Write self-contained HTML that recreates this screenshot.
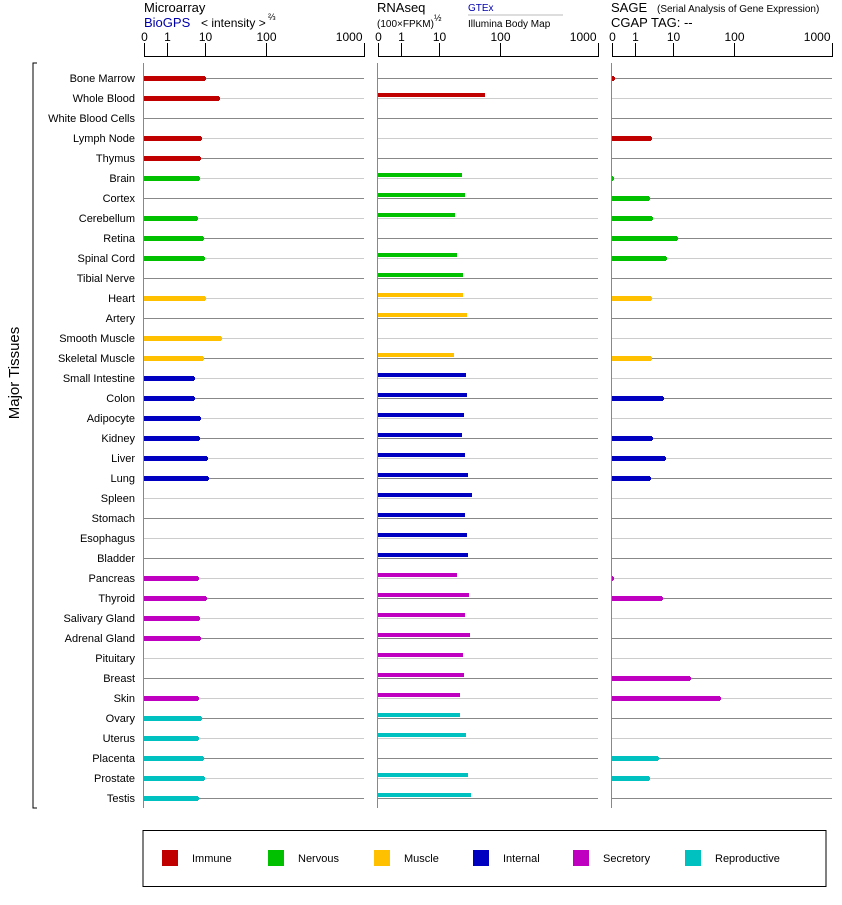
<!DOCTYPE html>
<html><head><meta charset="utf-8"><style>
body{margin:0;background:#fff;width:842px;height:900px;overflow:hidden}
svg{font-family:"Liberation Sans",sans-serif}
</style></head><body>
<svg id="s" width="842" height="900" xmlns="http://www.w3.org/2000/svg">
<text x="144" y="12" font-size="13">Microarray</text>
<text x="144" y="27" font-size="13" fill="#0000aa">BioGPS</text>
<text x="201" y="27" font-size="12">&lt; intensity &gt;</text>
<text x="268" y="20" font-size="9">⅔</text>
<text x="377" y="12" font-size="13">RNAseq</text>
<text x="377" y="27" font-size="10">(100×FPKM)</text>
<text x="434" y="21" font-size="9">½</text>
<text x="468" y="11" font-size="10" fill="#0000aa">GTEx</text>
<line x1="468" y1="15" x2="563" y2="15" stroke="#bbb"/>
<text x="468" y="27" font-size="10">Illumina Body Map</text>
<text x="611" y="12" font-size="13">SAGE</text>
<text x="657" y="12" font-size="10">(Serial Analysis of Gene Expression)</text>
<text x="611" y="27" font-size="13">CGAP TAG:  --</text>
<text transform="translate(19,373) rotate(-90)" font-size="15" text-anchor="middle">Major Tissues</text>
<path d="M37,63 H33 V808 H37" fill="none" stroke="#000"/>
<rect x="143" y="830.5" width="683" height="56" fill="none" stroke="#000"/>
</svg>
<script>
var s=document.getElementById('s'),NS='http://www.w3.org/2000/svg';
function el(t,a,txt){var e=document.createElementNS(NS,t);for(var k in a)e.setAttribute(k,a[k]);if(txt)e.textContent=txt;s.appendChild(e);return e;}
var tis=["Bone Marrow","Whole Blood","White Blood Cells","Lymph Node","Thymus","Brain","Cortex","Cerebellum","Retina","Spinal Cord","Tibial Nerve","Heart","Artery","Smooth Muscle","Skeletal Muscle","Small Intestine","Colon","Adipocyte","Kidney","Liver","Lung","Spleen","Stomach","Esophagus","Bladder","Pancreas","Thyroid","Salivary Gland","Adrenal Gland","Pituitary","Breast","Skin","Ovary","Uterus","Placenta","Prostate","Testis"];
var C={I:"#c00000",N:"#00c000",M:"#ffc000",T:"#0000c0",S:"#c000c0",R:"#00c0c0"};
var grp="IIIIINNNNNNMMMMTTTTTTTTTTSSSSSSSRRRRR";
var P=[144,378,612];
var ma=[205,219,0,201,200,199,0,197,203,204,0,205,0,221,203,194,194,200,199,207,208,0,0,0,0,198,206,199,200,0,0,198,201,198,203,204,198];
var rn=[0,485,0,0,0,462,465,455,0,457,463,463,467,0,454,466,467,464,462,465,468,472,465,467,468,457,469,465,470,463,464,460,460,466,0,468,471];
var sg=[614,0,0,651,0,613,649,652,677,666,0,651,0,0,651,0,663,0,652,665,650,0,0,0,0,613,662,0,0,0,690,720,0,0,658,649,0];
P.forEach(function(x0){
  el('line',{x1:x0,y1:56.5,x2:x0+220,y2:56.5,stroke:'#000'});
  [[0,'0'],[0.103,'1'],[0.275,'10'],[0.553,'100'],[1,'1000']].forEach(function(t,i){
    var x=Math.round(x0+220*t[0])+0.5;
    el('line',{x1:x,y1:43,x2:x,y2:57,stroke:'#000'});
    el('text',{x:x,y:41,'font-size':12,'text-anchor':i==4?'end':'middle',dx:i==4?-2:0},t[1]);
  });
  el('line',{x1:x0-0.5,y1:63,x2:x0-0.5,y2:808,stroke:'#888'});
});
tis.forEach(function(n,i){
  var y=78+20*i,c=C[grp[i]];
  el('text',{x:135,y:y+4,'font-size':11,'text-anchor':'end'},n);
  P.forEach(function(x0){el('line',{x1:x0,y1:y+0.5,x2:x0+220,y2:y+0.5,stroke:i%2?'#ccc':'#888'});});
  if(ma[i]){el('rect',{x:144,y:y-2,width:ma[i]-144,height:5,fill:c});el('rect',{x:ma[i]-1,y:y-1,width:2,height:3,fill:c});}
  if(rn[i])el('rect',{x:378,y:y-5,width:rn[i]-378,height:4,fill:c});
  if(sg[i]){el('rect',{x:612,y:y-2,width:sg[i]-612,height:5,fill:c});el('rect',{x:sg[i]-1,y:y-1,width:2,height:3,fill:c});}
});
[["Immune",162,"I"],["Nervous",268,"N"],["Muscle",374,"M"],["Internal",473,"T"],["Secretory",573,"S"],["Reproductive",685,"R"]].forEach(function(l){
  el('rect',{x:l[1],y:850,width:16,height:16,fill:C[l[2]]});
  el('text',{x:l[1]+30,y:862,'font-size':11},l[0]);
});
</script>
</body></html>
